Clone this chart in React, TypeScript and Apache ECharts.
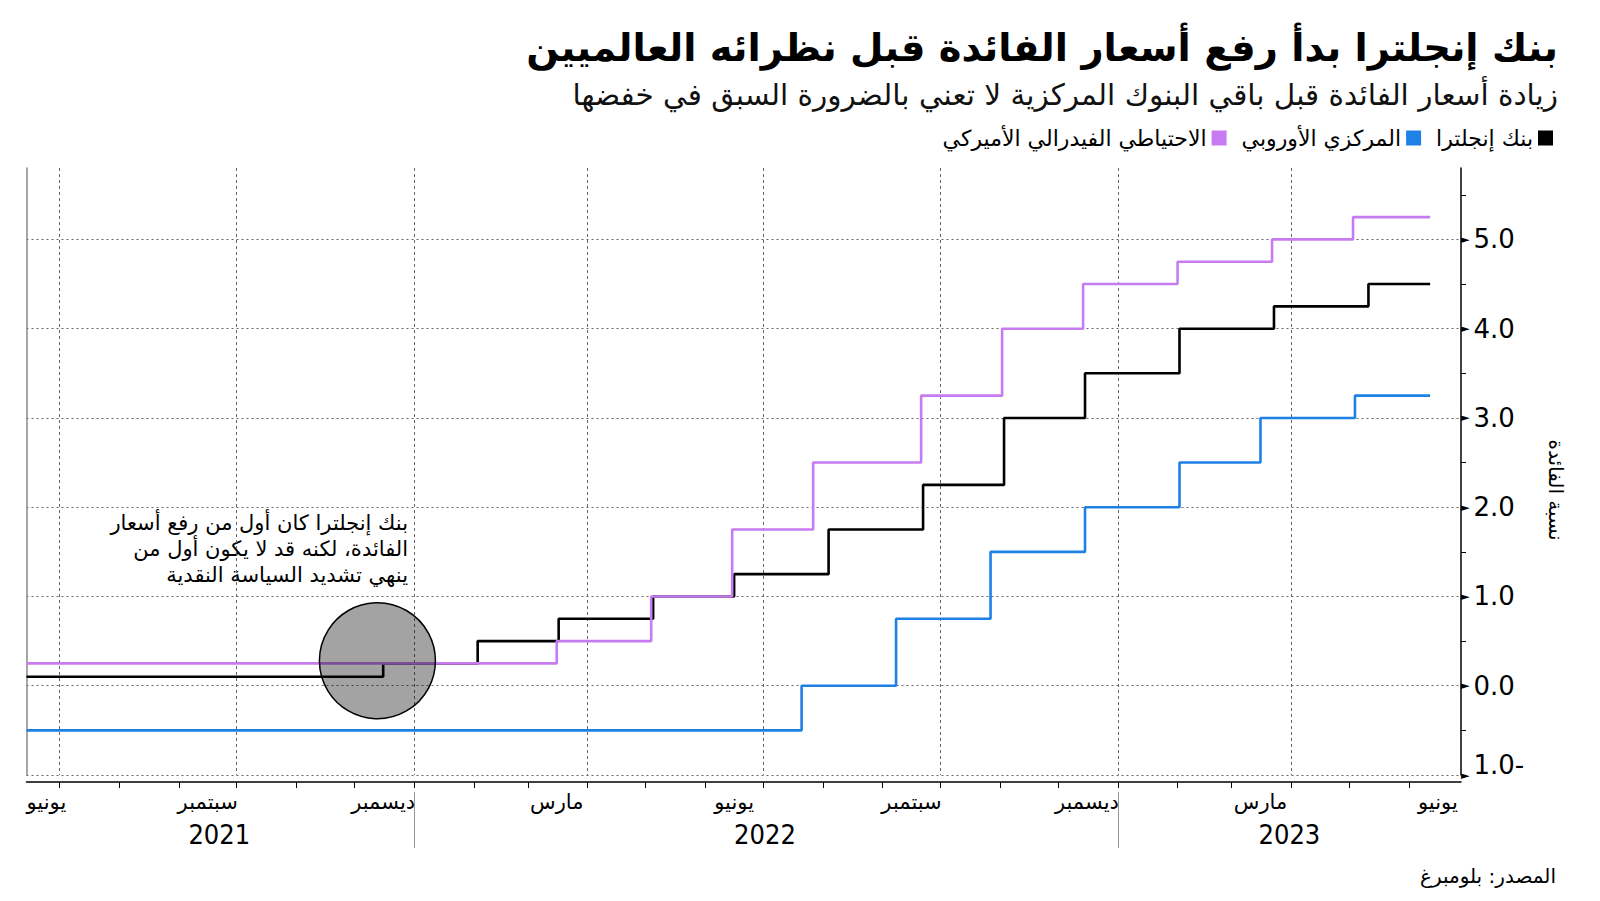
import { useEffect, useRef } from 'react';
import * as echarts from 'echarts';

// ---- axis domain ----
const axisStart = '2021-06-14';
const axisEnd = '2023-06-28';

// ---- series (policy-rate change dates and levels) ----
const boeDates = ['2021-06-14', '2021-12-16', '2022-02-03', '2022-03-17', '2022-05-05', '2022-06-16', '2022-08-04', '2022-09-22', '2022-11-03', '2022-12-15', '2023-02-02', '2023-03-23', '2023-05-11', '2023-06-12'];
const boeRates = [0.1, 0.25, 0.5, 0.75, 1.0, 1.25, 1.75, 2.25, 3.0, 3.5, 4.0, 4.25, 4.5, 4.5];

const ecbDates = ['2021-06-14', '2022-07-21', '2022-09-08', '2022-10-27', '2022-12-15', '2023-02-02', '2023-03-16', '2023-05-04', '2023-06-12'];
const ecbRates = [-0.5, 0, 0.75, 1.5, 2.0, 2.5, 3.0, 3.25, 3.25];

const fedDates = ['2021-06-14', '2022-03-16', '2022-05-04', '2022-06-15', '2022-07-27', '2022-09-21', '2022-11-02', '2022-12-14', '2023-02-01', '2023-03-22', '2023-05-03', '2023-06-12'];
const fedRates = [0.25, 0.5, 1.0, 1.75, 2.5, 3.25, 4.0, 4.5, 4.75, 5.0, 5.25, 5.25];

// ---- names / tick labels ----
const seriesNames = ['بنك إنجلترا', 'المركزي الأوروبي', 'الاحتياطي الفيدرالي الأميركي'];
const seriesColors = ['#000000', '#1f80e6', '#c67cf0'];

const monthLabelDates = ['2021-06-14', '2021-09-16', '2021-12-16', '2022-03-16', '2022-06-16', '2022-09-16', '2022-12-16', '2023-03-16', '2023-06-16'];
const monthLabelTexts = ['يونيو', 'سبتمبر', 'ديسمبر', 'مارس', 'يونيو', 'سبتمبر', 'ديسمبر', 'مارس', 'يونيو'];
const gridMonths = ['01', '04', '07', '10'];

const yearLabelDates = ['2021-09-22', '2022-07-02', '2023-03-31'];
const yearLabelTexts = ['2021', '2022', '2023'];

// ---- annotation ----
const circleDate = '2021-12-13';
const circleValue = 0.28;
const noteLines = ['بنك إنجلترا كان أول من رفع أسعار', 'الفائدة، لكنه قد لا يكون أول من', 'ينهي تشديد السياسة النقدية'];

const titleText = 'بنك إنجلترا بدأ رفع أسعار الفائدة قبل نظرائه العالميين';
const subtitleText = 'زيادة أسعار الفائدة قبل باقي البنوك المركزية لا تعني بالضرورة السبق في خفضها';
const yAxisName = 'نسبة الفائدة';
const sourceText = 'المصدر: بلومبرغ';

function buildDays(start: string, end: string): string[] {
  const out: string[] = [];
  const [sy, sm, sd] = start.split('-').map(Number);
  const [ey, em, ed] = end.split('-').map(Number);
  let t = Date.UTC(sy, sm - 1, sd);
  const e = Date.UTC(ey, em - 1, ed);
  while (t <= e) {
    out.push(new Date(t).toISOString().slice(0, 10));
    t += 86400000;
  }
  return out;
}

export default function App() {
  const ref = useRef<HTMLDivElement>(null);
  useEffect(() => {
    if (!ref.current) return;
    const chart = echarts.init(ref.current, null, { renderer: 'svg' });
    const days = buildDays(axisStart, axisEnd);
    const pair = (d: string[], v: number[]) => d.map((x, i) => [days.indexOf(x), v[i]]);
    const font = 'DejaVu Sans';

    const mkSeries = (i: number, d: string[], v: number[], extra: any = {}) => ({
      name: seriesNames[i],
      type: 'line',
      step: 'end',
      data: pair(d, v),
      symbol: 'none',
      showSymbol: false,
      lineStyle: { color: seriesColors[i], width: 2.6 },
      itemStyle: { color: seriesColors[i] },
      xAxisIndex: 0,
      yAxisIndex: 0,
      ...extra,
    });

    chart.setOption({
      animation: false,
      backgroundColor: '#ffffff',
      textStyle: { fontFamily: font },
      legend: {
        data: [seriesNames[2], seriesNames[1], seriesNames[0]],
        right: 42,
        top: 122,
        icon: 'rect',
        itemWidth: 15,
        itemHeight: 15,
        itemGap: 15,
        align: 'right',
        textStyle: { fontSize: 22, color: '#000', fontFamily: font },
      },
      grid: { left: 26.5, right: 139, top: 168, bottom: 126 },
      xAxis: [
        {
          type: 'category',
          data: days,
          boundaryGap: false,
          position: 'bottom',
          offset: 7,
          axisLine: { show: true, onZero: false, lineStyle: { color: '#000', width: 1.5 } },
          axisTick: {
            show: true,
            interval: (_i: number, v: string) => v.slice(8) === '01',
            length: 6,
            lineStyle: { color: '#000', width: 1 },
          },
          splitLine: {
            show: true,
            interval: (_i: number, v: string) => v.slice(8) === '01' && gridMonths.includes(v.slice(5, 7)),
            lineStyle: { color: '#666', type: [3, 3], width: 1 },
          },
          axisLabel: {
            interval: (_i: number, v: string) => monthLabelDates.includes(v),
            formatter: (v: string) => monthLabelTexts[monthLabelDates.indexOf(v)] || '',
            fontSize: 21,
            color: '#000',
            margin: 9,
            fontFamily: font,
            alignMinLabel: 'left',
          },
        },
        {
          type: 'category',
          data: days,
          boundaryGap: false,
          position: 'bottom',
          offset: 17,
          axisLine: { show: false, onZero: false },
          axisTick: {
            show: true,
            interval: (_i: number, v: string) => v.slice(5) === '01-01',
            length: 56,
            lineStyle: { color: '#999', width: 1 },
          },
          splitLine: { show: false },
          axisLabel: {
            interval: (_i: number, v: string) => yearLabelDates.includes(v),
            formatter: (v: string) => yearLabelTexts[yearLabelDates.indexOf(v)] || '',
            fontSize: 27,
            color: '#000',
            margin: 29,
            fontFamily: 'DejaVu Sans Condensed',
          },
        },
      ],
      yAxis: [
        {
          type: 'value',
          position: 'right',
          min: -1,
          max: 5.8,
          interval: 1,
          axisLine: { show: true, onZero: false, lineStyle: { color: '#000', width: 1.5 } },
          axisTick: { show: false },
          minorTick: { show: true, splitNumber: 2, length: 5, lineStyle: { color: '#000' } },
          splitLine: { show: true, showMaxLine: false, showMinLine: true, lineStyle: { color: '#666', type: [2, 3], width: 1 } },
          axisLabel: {
            margin: 0,
            showMaxLabel: false,
            fontSize: 26,
            color: '#000',
            fontFamily: font,
            formatter: (v: number) =>
              v < 0 ? `{t|►}{n|${Math.abs(v).toFixed(1)}-}` : `{t|►}${v.toFixed(1)}`,
            rich: {
              t: { fontSize: 11, color: '#000', padding: [0, 4, 0, 0] },
              n: { fontSize: 26, color: '#000', padding: [0, 0, 20, 0] },
            },
          },
        },
        {
          type: 'value',
          position: 'left',
          min: -1,
          max: 5.8,
          interval: 1,
          axisLine: { show: true, onZero: false, lineStyle: { color: '#888', width: 1.5 } },
          axisTick: { show: false },
          axisLabel: { show: false },
          splitLine: { show: false },
        },
      ],
      series: [
        mkSeries(0, boeDates, boeRates),
        mkSeries(1, ecbDates, ecbRates),
        mkSeries(2, fedDates, fedRates, {
          markPoint: {
            silent: true,
            symbol: 'circle',
            symbolSize: 116,
            label: { show: false },
            itemStyle: { color: 'rgba(0,0,0,0.36)', borderColor: '#000', borderWidth: 1.5 },
            data: [{ coord: [days.indexOf(circleDate), circleValue] }],
          },
        }),
      ],
      graphic: [
        {
          type: 'text',
          x: 1558,
          y: 47,
          style: {
            text: titleText,
            align: 'right',
            verticalAlign: 'middle',
            fontSize: 38.5,
            fontWeight: 'bold',
            fill: '#000',
            fontFamily: font,
          },
        },
        {
          type: 'text',
          x: 1558,
          y: 95,
          style: {
            text: subtitleText,
            align: 'right',
            verticalAlign: 'middle',
            fontSize: 29.5,
            fill: '#111',
            fontFamily: font,
          },
        },
        {
          type: 'text',
          x: 1556,
          y: 490,
          rotation: -Math.PI / 2,
          style: {
            text: yAxisName,
            align: 'center',
            verticalAlign: 'middle',
            fontSize: 20,
            fill: '#000',
            fontFamily: font,
          },
        },
        {
          type: 'text',
          x: 408,
          y: 510,
          style: {
            text: noteLines.join('\n'),
            align: 'right',
            verticalAlign: 'top',
            fontSize: 21,
            lineHeight: 26,
            fill: '#000',
            fontFamily: font,
          },
        },
        {
          type: 'text',
          x: 1556,
          y: 876,
          style: {
            text: sourceText,
            align: 'right',
            verticalAlign: 'middle',
            fontSize: 20,
            fill: '#000',
            fontFamily: font,
          },
        },
      ],
    });
    return () => chart.dispose();
  }, []);
  return (
    <div
      ref={ref}
      style={{ position: 'fixed', left: 0, top: 0, width: 1600, height: 901, background: '#fff' }}
    />
  );
}
